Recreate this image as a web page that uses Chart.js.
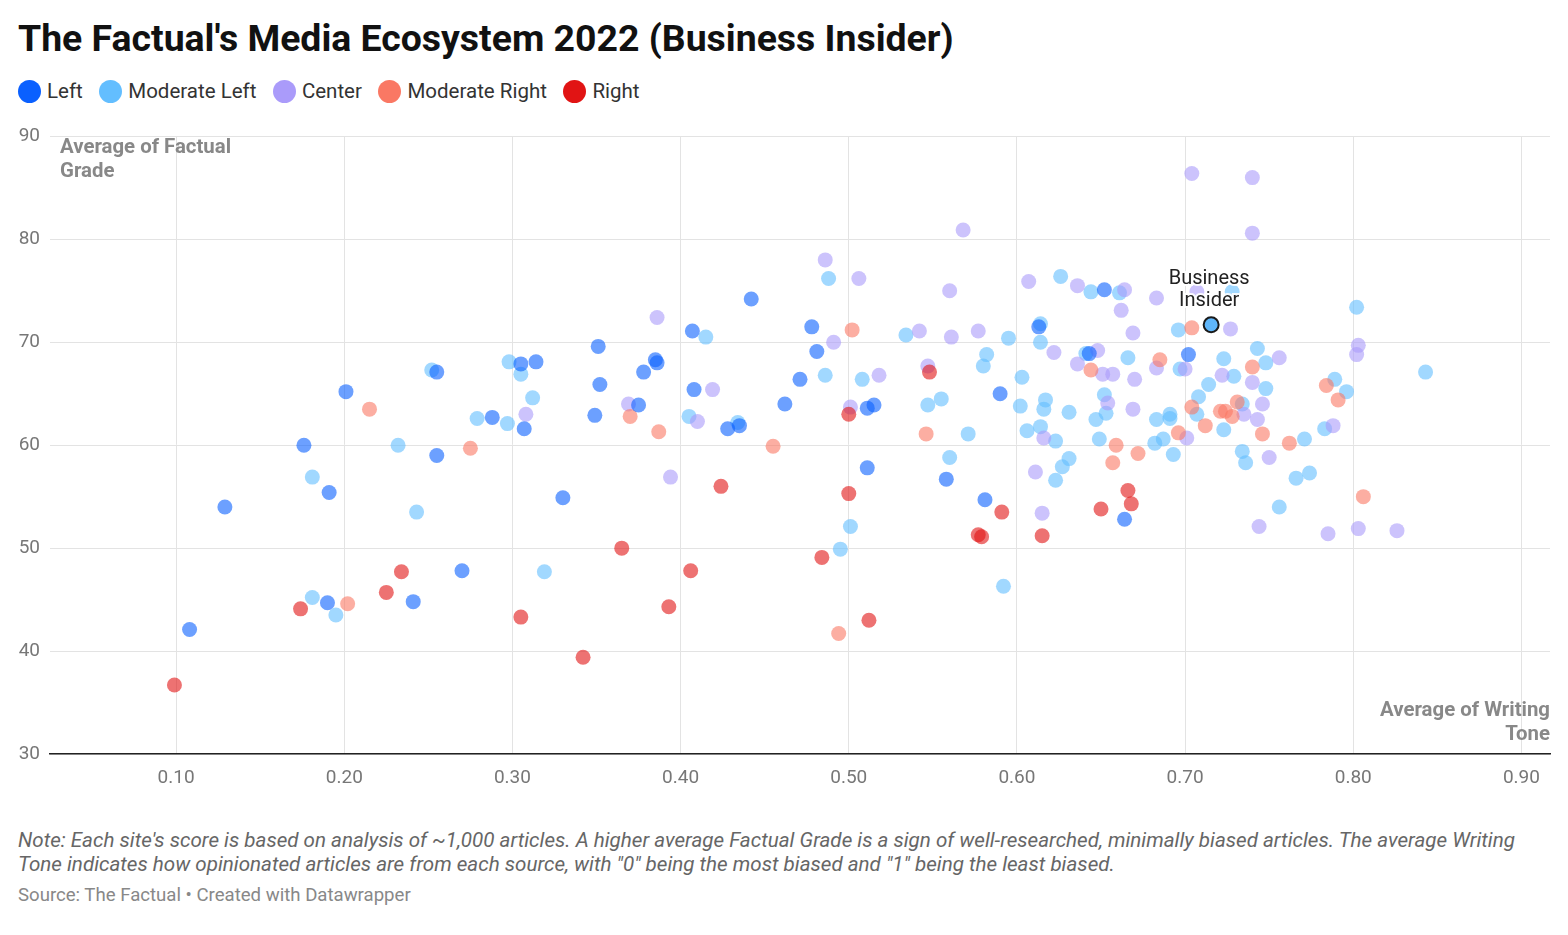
<!DOCTYPE html>
<html>
<head>
<meta charset="utf-8">
<script src="https://cdn.jsdelivr.net/npm/chart.js@4/dist/chart.umd.min.js"></script>
<style>
body{margin:0;background:#fff;font-family:Roboto,"Noto Sans",sans-serif;width:1568px;height:935px;position:relative;overflow:hidden}
#titolo{position:absolute;left:18px;top:16px;font-size:37.4px;font-weight:700;color:#111;white-space:nowrap}
#legenda{position:absolute;left:18px;top:79px;display:flex;font-size:20.5px;color:#333}
.voce{display:flex;align-items:center;margin-right:16.5px}
.pallino{width:23px;height:23px;border-radius:50%;margin-right:6px}
#box{position:absolute;left:0;top:115px;width:1568px;height:685px}
#nota{position:absolute;left:18px;top:828px;font-size:20.6px;font-style:italic;color:#666;line-height:24px;white-space:nowrap}
#fonte{position:absolute;left:18px;top:884px;font-size:18.6px;color:#888}
</style>
</head>
<body>
<div id="titolo">The Factual's Media Ecosystem 2022 (Business Insider)</div>
<div id="legenda"></div>
<div id="box"><canvas id="grafico" width="1568" height="685"></canvas></div>
<div id="nota">Note: Each site's score is based on analysis of ~1,000 articles. A higher average Factual Grade is a sign of well-researched, minimally biased articles. The average Writing<br>Tone indicates how opinionated articles are from each source, with "0" being the most biased and "1" being the least biased.</div>
<div id="fonte">Source: The Factual • Created with Datawrapper</div>

<script>
// categorie e colori della legenda
const categorie = ["Left", "Moderate Left", "Center", "Moderate Right", "Right"];
const colori = ["rgb(10,96,255)", "rgb(99,190,255)", "rgb(170,155,250)", "rgb(250,120,100)", "rgb(225,20,20)"];

const xTicks = [0.1, 0.2, 0.3, 0.4, 0.5, 0.6, 0.7, 0.8, 0.9];
const yTicks = [30, 40, 50, 60, 70, 80, 90];

// [writing tone, factual grade]
const puntiLeft = [
  [0.108,42.1],[0.129,54.0],[0.176,60.0],[0.201,65.2],[0.191,55.4],[0.190,44.7],[0.241,44.8],
  [0.255,67.1],[0.255,59.0],[0.270,47.8],[0.288,62.7],[0.305,67.9],[0.314,68.1],[0.307,61.6],
  [0.330,54.9],[0.349,62.9],[0.351,69.6],[0.352,65.9],[0.375,63.9],[0.378,67.1],[0.385,68.3],
  [0.386,68.0],[0.407,71.1],[0.408,65.4],[0.428,61.6],[0.435,61.9],[0.442,74.2],[0.462,64.0],
  [0.471,66.4],[0.478,71.5],[0.481,69.1],[0.511,63.6],[0.515,63.9],[0.511,57.8],[0.558,56.7],
  [0.581,54.7],[0.590,65.0],[0.613,71.5],[0.643,68.9],[0.652,75.1],[0.664,52.8],[0.702,68.8]
];
const puntiModLeft = [
  [0.181,56.9],[0.181,45.2],[0.195,43.5],[0.232,60.0],[0.243,53.5],[0.252,67.3],[0.279,62.6],
  [0.297,62.1],[0.298,68.1],[0.305,66.9],[0.312,64.6],[0.319,47.7],[0.405,62.8],[0.415,70.5],
  [0.434,62.2],[0.488,76.2],[0.486,66.8],[0.508,66.4],[0.501,52.1],[0.495,49.9],[0.534,70.7],
  [0.547,63.9],[0.555,64.5],[0.560,58.8],[0.571,61.1],[0.580,67.7],[0.582,68.8],[0.592,46.3],
  [0.595,70.4],[0.603,66.6],[0.602,63.8],[0.606,61.4],[0.614,71.8],[0.614,70.0],[0.614,61.8],
  [0.616,63.5],[0.617,64.4],[0.623,60.4],[0.626,76.4],[0.627,57.9],[0.623,56.6],[0.631,58.7],
  [0.631,63.2],[0.641,68.9],[0.644,74.9],[0.661,74.8],[0.666,68.5],[0.652,64.9],[0.647,62.5],
  [0.649,60.6],[0.653,63.1],[0.682,60.2],[0.687,60.6],[0.683,62.5],[0.691,63.0],[0.691,62.6],
  [0.693,59.1],[0.696,71.2],[0.697,67.4],[0.708,64.7],[0.707,63.0],[0.714,65.9],[0.723,68.4],
  [0.723,61.5],[0.729,66.7],[0.734,64.0],[0.743,69.4],[0.748,68.0],[0.748,65.5],[0.734,59.4],
  [0.736,58.3],[0.756,54.0],[0.766,56.8],[0.774,57.3],[0.771,60.6],[0.783,61.6],[0.796,65.2],
  [0.789,66.4],[0.802,73.4],[0.843,67.1],[0.728,74.9]
];
const puntiCenter = [
  [0.568,80.9],[0.704,86.4],[0.740,86.0],[0.740,80.6],[0.486,78.0],[0.506,76.2],[0.560,75.0],
  [0.607,75.9],[0.636,75.5],[0.664,75.1],[0.662,73.1],[0.683,74.3],[0.669,70.9],[0.727,71.3],
  [0.707,74.9],[0.386,72.4],[0.491,70.0],[0.542,71.1],[0.561,70.5],[0.577,71.1],[0.547,67.7],
  [0.419,65.4],[0.410,62.3],[0.369,64.0],[0.308,63.0],[0.394,56.9],[0.518,66.8],[0.501,63.7],
  [0.622,69.0],[0.648,69.2],[0.636,67.9],[0.651,66.9],[0.657,66.9],[0.670,66.4],[0.654,64.1],
  [0.669,63.5],[0.616,60.7],[0.611,57.4],[0.615,53.4],[0.683,67.5],[0.700,67.4],[0.722,66.8],
  [0.756,68.5],[0.740,66.1],[0.746,64.0],[0.735,63.0],[0.743,62.5],[0.701,60.7],[0.750,58.8],
  [0.744,52.1],[0.803,69.7],[0.802,68.8],[0.788,61.9],[0.785,51.4],[0.803,51.9],[0.826,51.7]
];
const puntiModRight = [
  [0.215,63.5],[0.202,44.6],[0.275,59.7],[0.370,62.8],[0.387,61.3],[0.455,59.9],[0.502,71.2],
  [0.494,41.7],[0.546,61.1],[0.644,67.3],[0.659,60.0],[0.672,59.2],[0.657,58.3],[0.685,68.3],
  [0.704,71.4],[0.696,61.2],[0.704,63.7],[0.712,61.9],[0.740,67.6],[0.721,63.3],[0.724,63.3],
  [0.731,64.2],[0.728,62.8],[0.746,61.1],[0.762,60.2],[0.784,65.8],[0.791,64.4],[0.806,55.0]
];
const puntiRight = [
  [0.099,36.7],[0.174,44.1],[0.225,45.7],[0.234,47.7],[0.305,43.3],[0.342,39.4],[0.365,50.0],
  [0.393,44.3],[0.406,47.8],[0.424,56.0],[0.484,49.1],[0.500,55.3],[0.500,63.0],[0.512,43.0],
  [0.548,67.1],[0.577,51.3],[0.579,51.1],[0.591,53.5],[0.615,51.2],[0.650,53.8],[0.666,55.6],
  [0.668,54.3]
];
const businessInsider = [[0.7155, 71.7]];
const etichettaBI = ["Business", "Insider"];

// legenda
const legenda = document.getElementById("legenda");
for (let i = 0; i < categorie.length; i++) {
  legenda.innerHTML += '<div class="voce"><div class="pallino" style="background:' + colori[i] + '"></div>' + categorie[i] + '</div>';
}

function trasparente(c, a) {
  return c.replace("rgb(", "rgba(").replace(")", "," + a + ")");
}

function serie(punti, idx, ordine) {
  return {
    label: categorie[idx],
    data: punti.map(p => ({x: p[0], y: p[1]})),
    backgroundColor: trasparente(colori[idx], 0.6),
    borderWidth: 0,
    pointRadius: 7.5,
    pointHoverRadius: 7.5,
    order: ordine
  };
}

const testiExtra = {
  id: "testiExtra",
  afterDatasetsDraw(chart) {
    const ctx = chart.ctx;
    const a = chart.chartArea;
    ctx.save();
    ctx.font = "bold 20.4px Roboto";
    ctx.fillStyle = "#888";
    ctx.textBaseline = "middle";
    ctx.textAlign = "left";
    ctx.fillText("Average of Factual", a.left + 10, a.top + 12);
    ctx.fillText("Grade", a.left + 10, a.top + 36);
    ctx.textAlign = "right";
    ctx.fillText("Average of Writing", a.right, a.bottom - 43);
    ctx.fillText("Tone", a.right, a.bottom - 19);

    // etichetta Business Insider
    const px = chart.scales.x.getPixelForValue(businessInsider[0][0]);
    const py = chart.scales.y.getPixelForValue(businessInsider[0][1]);
    ctx.font = "20px Roboto";
    ctx.textAlign = "center";
    ctx.lineWidth = 4;
    ctx.strokeStyle = "rgba(255,255,255,0.9)";
    ctx.fillStyle = "#222";
    for (let i = 0; i < etichettaBI.length; i++) {
      const yy = py - 46 + i * 22;
      ctx.strokeText(etichettaBI[i], px - 2, yy);
      ctx.fillText(etichettaBI[i], px - 2, yy);
    }
    ctx.restore();
  }
};

const grafico = new Chart(document.getElementById("grafico"), {
  type: "scatter",
  data: {
    datasets: [
      {
        label: "Business Insider",
        data: businessInsider.map(p => ({x: p[0], y: p[1]})),
        backgroundColor: "rgb(95,182,250)",
        borderColor: "#1a1a1a",
        borderWidth: 2,
        pointRadius: 7.5,
        pointHoverRadius: 7.5,
        order: -1
      },
      serie(puntiRight, 4, 0),
      serie(puntiLeft, 0, 1),
      serie(puntiModRight, 3, 2),
      serie(puntiCenter, 2, 3),
      serie(puntiModLeft, 1, 4)
    ]
  },
  options: {
    responsive: false,
    animation: false,
    layout: {padding: {top: 9, right: 18, left: 0, bottom: 0}},
    plugins: {legend: {display: false}, tooltip: {enabled: false}},
    scales: {
      x: {
        type: "linear",
        min: 0.025,
        max: 0.917,
        afterBuildTicks: s => { s.ticks = xTicks.map(v => ({value: v})); },
        afterFit: s => { s.height = 46; },
        ticks: {
          callback: v => v.toFixed(2),
          color: "#777",
          font: {family: "Roboto", size: 19},
          padding: 13,
          maxRotation: 0
        },
        grid: {color: "#e3e3e3", drawTicks: false},
        border: {display: true, color: "#222", width: 1.5}
      },
      y: {
        min: 30,
        max: 90,
        afterBuildTicks: s => { s.ticks = yTicks.map(v => ({value: v})); },
        afterFit: s => { s.width = 50; },
        ticks: {
          color: "#777",
          font: {family: "Roboto", size: 19},
          padding: 10
        },
        grid: {color: "#e3e3e3", drawTicks: false},
        border: {display: false}
      }
    }
  },
  plugins: [testiExtra]
});
</script>
</body>
</html>
